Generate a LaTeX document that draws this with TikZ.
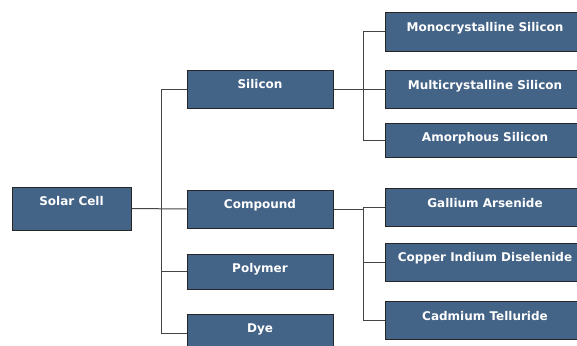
\documentclass[tikz,border=0pt]{standalone}
\usepackage{fontspec}
\setsansfont{DejaVu Sans}
\definecolor{cellblue}{HTML}{436387}
\definecolor{linkgray}{HTML}{444444}
\tikzset{
  category/.style={rectangle, draw=black!85, line width=1pt, fill=cellblue, text=white,
    font=\sffamily\bfseries\fontsize{12}{13}\selectfont, inner sep=0pt,
    text height=18.5pt, text depth=19.5pt},
  root/.style={category, text depth=24.5pt, minimum width=119pt},
  mid/.style={category, minimum width=146pt},
  leaf/.style={category, minimum width=200pt},
  link/.style={linkgray, line width=1pt}
}
\begin{document}
\begin{tikzpicture}[x=1pt, y=-1pt]
  \clip (0,0) rectangle (577,345);
  \fill[white] (0,0) rectangle (577,345);

  \node[root] (solar) at (71.5,208.5) {Solar Cell};

  \node[mid] (silicon) at (260,89) {Silicon};
  \node[mid] (compound) at (260,209) {Compound};
  \node[mid, text depth=16.5pt] (polymer) at (260,271.5) {Polymer};
  \node[mid] (dye) at (260,333) {Dye};

  \node[leaf] (mono) at (485,32) {Monocrystalline Silicon};
  \node[leaf] (multi) at (485,89.5) {Multicrystalline Silicon};
  \node[leaf, text depth=15.5pt] (amorph) at (485,140) {Amorphous Silicon};

  \node[leaf] (gallium) at (485,207.5) {Gallium Arsenide};
  \node[leaf] (copper) at (485,262) {Copper Indium Diselenide};
  \node[leaf] (cadmium) at (485,320.5) {Cadmium Telluride};

  \coordinate (trunkL) at (161,0);
  \coordinate (trunkR) at (363,0);

  % root to materials
  \draw[link] (solar.east) -- (compound.west);
  \draw[link] (silicon.west) -- (silicon.west -| trunkL) -- (dye.west -| trunkL) -- (dye.west);
  \draw[link] (polymer.west) -- (polymer.west -| trunkL);

  % silicon types
  \draw[link] (silicon.east) -- (silicon.east -| trunkR);
  \draw[link] (mono.west) -- (mono.west -| trunkR) -- (amorph.west -| trunkR) -- (amorph.west);
  \draw[link] (multi.west) -- (multi.west -| trunkR);

  % compound types
  \draw[link] (compound.east) -- (compound.east -| trunkR);
  \draw[link] (gallium.west) -- (gallium.west -| trunkR) -- (cadmium.west -| trunkR) -- (cadmium.west);
  \draw[link] (copper.west) -- (copper.west -| trunkR);
\end{tikzpicture}
\end{document}
